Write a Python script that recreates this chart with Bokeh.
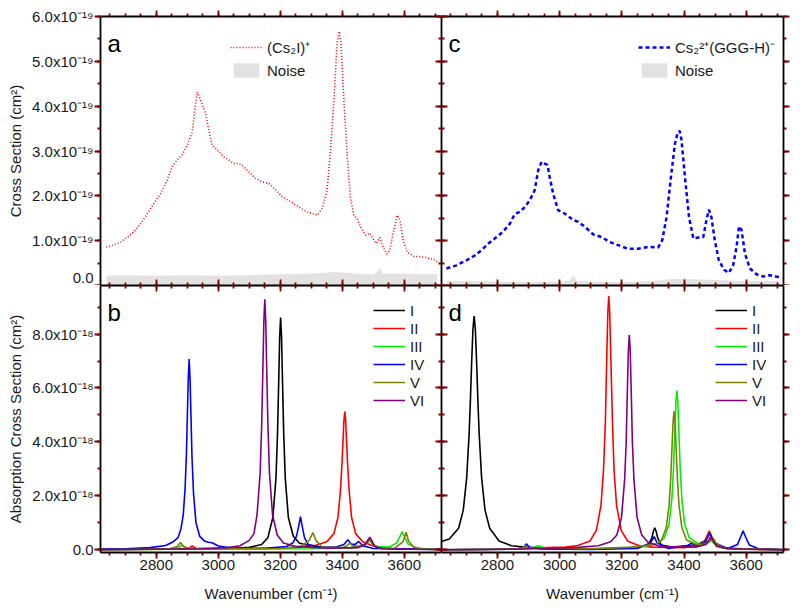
from bokeh.plotting import figure
from bokeh.layouts import gridplot
from bokeh.models import (LinearAxis, SingleIntervalTicker, CustomJSTickFormatter,
                          BasicTickFormatter, Range1d, Legend, LegendItem, Label,
                          CustomLabelingPolicy)
from bokeh.embed import file_html
from bokeh.resources import INLINE

# ---------------- data (units: top panels 1e-19 cm^2, bottom panels 1e-18 cm^2) ----------------
cs2i_x = [2639, 2663, 2685, 2706, 2728, 2749, 2771, 2792, 2814, 2835, 2851, 2867, 2883, 2900,
          2916, 2924, 2932, 2943, 2959, 2969, 2980, 2996, 3018, 3034, 3050, 3066, 3082, 3098,
          3120, 3141, 3163, 3185, 3206, 3233, 3260, 3287, 3319, 3335, 3351, 3362, 3373, 3383,
          3390, 3396, 3405, 3416, 3426, 3437, 3448, 3459, 3475, 3489, 3502, 3510, 3521, 3532,
          3543, 3553, 3564, 3577, 3586, 3596, 3609, 3631, 3652, 3674, 3695, 3706]
cs2i_y = [0.86, 0.90, 0.97, 1.07, 1.20, 1.38, 1.60, 1.83, 2.05, 2.35, 2.65, 2.80, 2.91, 3.13,
          3.43, 3.91, 4.32, 4.14, 3.84, 3.47, 3.13, 3.02, 2.87, 2.80, 2.72, 2.72, 2.65, 2.54,
          2.39, 2.31, 2.28, 2.13, 1.98, 1.87, 1.75, 1.64, 1.57, 1.72, 2.13, 3.02, 4.14, 5.40,
          5.67, 5.40, 4.14, 2.87, 1.98, 1.57, 1.49, 1.31, 1.12, 1.17, 1.01, 0.94, 1.07, 0.86,
          0.70, 0.79, 1.16, 1.57, 1.46, 1.01, 0.75, 0.65, 0.64, 0.62, 0.58, 0.53]
noise_a_x = [2639, 2700, 2800, 2900, 3000, 3100, 3200, 3300, 3380, 3450, 3500, 3512, 3521, 3530, 3600, 3706]
noise_a_y = [0.22, 0.23, 0.22, 0.23, 0.22, 0.23, 0.25, 0.27, 0.30, 0.26, 0.25, 0.30, 0.40, 0.27, 0.26, 0.25]

ggg_x = [2636, 2668, 2700, 2727, 2749, 2770, 2797, 2818, 2840, 2856, 2872, 2888, 2904, 2920,
         2931, 2942, 2952, 2961, 2968, 2979, 2995, 3017, 3044, 3060, 3081, 3108, 3135, 3161,
         3188, 3220, 3253, 3285, 3317, 3330, 3344, 3358, 3371, 3379, 3386, 3392, 3403, 3416,
         3430, 3446, 3462, 3472, 3480, 3488, 3499, 3512, 3529, 3544, 3558, 3569, 3577, 3585,
         3596, 3612, 3633, 3655, 3676, 3692, 3708]
ggg_y = [0.38, 0.45, 0.56, 0.67, 0.79, 0.93, 1.08, 1.20, 1.38, 1.60, 1.64, 1.75, 1.90, 2.13,
         2.57, 2.76, 2.72, 2.69, 2.42, 2.05, 1.68, 1.60, 1.46, 1.42, 1.31, 1.14, 1.08, 0.97,
         0.90, 0.82, 0.82, 0.86, 0.85, 1.01, 1.53, 2.42, 3.17, 3.39, 3.45, 3.24, 2.42, 1.53,
         1.05, 1.07, 1.08, 1.46, 1.69, 1.53, 1.01, 0.56, 0.35, 0.28, 0.45, 0.86, 1.32, 1.24,
         0.71, 0.38, 0.25, 0.20, 0.23, 0.20, 0.19]
noise_c_x = [2636, 2700, 2800, 2900, 3000, 3030, 3044, 3055, 3150, 3250, 3300, 3350, 3400, 3500, 3600, 3708]
noise_c_y = [0.10, 0.10, 0.09, 0.08, 0.09, 0.10, 0.23, 0.10, 0.08, 0.09, 0.10, 0.14, 0.15, 0.12, 0.10, 0.10]

conformers = ["I", "II", "III", "IV", "V", "VI"]

# panel b (calculated spectra for (Cs2I)+ conformers)
b_I_x = [2620, 2800, 2950, 3050, 3100, 3140, 3160, 3176, 3186, 3191, 3195, 3198, 3201, 3204, 3207,
         3211, 3216, 3226, 3242, 3261, 3300, 3360, 3430, 3465, 3478, 3486, 3494, 3510, 3560, 3720]
b_I_y = [0.02, 0.03, 0.04, 0.06, 0.09, 0.2, 0.45, 1.2, 2.65, 4.3, 6.3, 7.9, 8.61, 7.9, 6.3,
         4.3, 2.65, 1.2, 0.5, 0.25, 0.12, 0.07, 0.08, 0.14, 0.28, 0.41, 0.28, 0.1, 0.04, 0.02]
b_II_x = [2620, 2850, 2905, 2916, 2927, 3000, 3150, 3250, 3310, 3350, 3373, 3386, 3394, 3399, 3403,
          3405, 3408, 3411, 3413, 3417, 3422, 3430, 3443, 3466, 3500, 3560, 3720]
b_II_y = [0.01, 0.02, 0.06, 0.14, 0.06, 0.04, 0.05, 0.08, 0.15, 0.3, 0.6, 1.2, 2.2, 3.2, 4.2,
          4.75, 5.13, 4.75, 4.2, 3.2, 2.2, 1.2, 0.6, 0.3, 0.14, 0.05, 0.02]
b_III_x = [2620, 2850, 2873, 2883, 2893, 2920, 2960, 3100, 3300, 3440, 3470, 3480, 3486, 3492, 3505,
           3550, 3575, 3586, 3593, 3600, 3612, 3640, 3720]
b_III_y = [0.0, 0.02, 0.08, 0.18, 0.08, 0.04, 0.05, 0.03, 0.04, 0.08, 0.18, 0.28, 0.37, 0.28, 0.12,
           0.1, 0.25, 0.5, 0.68, 0.5, 0.22, 0.06, 0.01]
b_IV_x = [2620, 2700, 2780, 2830, 2855, 2870, 2880, 2887, 2893, 2897, 2900, 2903, 2906, 2909, 2912,
          2915, 2920, 2928, 2940, 2955, 2968, 2980, 3000, 3050, 3150, 3220, 3240, 3252, 3259, 3265,
          3271, 3278, 3290, 3330, 3380, 3405, 3418, 3430, 3442, 3453, 3466, 3500, 3720]
b_IV_y = [0.02, 0.04, 0.08, 0.16, 0.3, 0.45, 0.8, 1.3, 2.3, 3.5, 4.9, 6.3, 7.07, 6.3, 4.9,
          3.5, 2.1, 1.0, 0.5, 0.33, 0.28, 0.26, 0.14, 0.06, 0.06, 0.12, 0.25, 0.5, 0.85, 1.23,
          0.85, 0.45, 0.2, 0.1, 0.1, 0.2, 0.37, 0.2, 0.2, 0.31, 0.15, 0.05, 0.01]
b_V_x = [2620, 2840, 2868, 2878, 2888, 2910, 2950, 3000, 3200, 3270, 3293, 3305, 3315, 3335, 3400,
         3416, 3424, 3432, 3460, 3480, 3489, 3497, 3520, 3570, 3596, 3606, 3614, 3630, 3660, 3720]
b_V_y = [0.0, 0.03, 0.12, 0.27, 0.12, 0.04, 0.05, 0.03, 0.05, 0.15, 0.35, 0.64, 0.35, 0.1, 0.08,
         0.16, 0.25, 0.16, 0.12, 0.25, 0.37, 0.22, 0.06, 0.06, 0.3, 0.65, 0.32, 0.1, 0.03, 0.01]
b_VI_x = [2620, 2800, 2950, 3030, 3070, 3100, 3115, 3125, 3135, 3140, 3144, 3147, 3150, 3153, 3156,
          3160, 3165, 3175, 3190, 3210, 3250, 3350, 3450, 3475, 3483, 3489, 3495, 3505, 3530, 3720]
b_VI_y = [0.0, 0.02, 0.04, 0.08, 0.15, 0.35, 0.6, 1.3, 2.85, 4.65, 6.8, 8.5, 9.29, 8.5, 6.8,
          4.65, 2.85, 1.3, 0.55, 0.25, 0.12, 0.06, 0.08, 0.2, 0.35, 0.47, 0.35, 0.12, 0.04, 0.0]

# panel d (calculated spectra for Cs2(2+)(GGG-H)- conformers)
d_I_x = [2620, 2645, 2675, 2690, 2701, 2709, 2713, 2717, 2721, 2725, 2729, 2733, 2737, 2741, 2749,
         2760, 2775, 2805, 2845, 2925, 3000, 3100, 3250, 3285, 3296, 3302, 3306, 3310, 3316, 3327,
         3360, 3440, 3462, 3475, 3486, 3496, 3520, 3600, 3720]
d_I_y = [0.31, 0.4, 0.8, 1.47, 2.67, 4.33, 5.55, 6.94, 8.15, 8.67, 8.15, 6.94, 5.55, 4.33, 2.67,
         1.47, 0.8, 0.33, 0.15, 0.06, 0.04, 0.03, 0.08, 0.2, 0.42, 0.7, 0.82, 0.7, 0.42, 0.18,
         0.1, 0.18, 0.3, 0.3, 0.42, 0.25, 0.08, 0.02, 0.01]
d_II_x = [2620, 2800, 2900, 2960, 3020, 3058, 3098, 3118, 3133, 3141, 3147, 3152, 3155, 3158, 3161,
          3164, 3170, 3175, 3183, 3198, 3218, 3258, 3300, 3400, 3455, 3470, 3477, 3481, 3485, 3492,
          3505, 3550, 3720]
d_II_y = [0.0, 0.02, 0.05, 0.08, 0.1, 0.16, 0.33, 0.72, 1.65, 2.95, 4.7, 7.4, 8.8, 9.41, 8.8,
          7.4, 4.7, 2.95, 1.65, 0.72, 0.33, 0.14, 0.1, 0.08, 0.2, 0.4, 0.6, 0.7, 0.6, 0.35,
          0.12, 0.03, 0.0]
d_III_x = [2620, 2850, 2905, 2931, 2957, 3050, 3200, 3280, 3317, 3337, 3352, 3361, 3366, 3371, 3374,
           3377, 3380, 3383, 3388, 3393, 3402, 3417, 3435, 3450, 3470, 3486, 3500, 3530, 3720]
d_III_y = [0.0, 0.02, 0.05, 0.15, 0.05, 0.03, 0.06, 0.14, 0.25, 0.45, 0.96, 1.9, 2.95, 4.55, 5.5,
           5.9, 5.5, 4.55, 2.95, 1.9, 0.96, 0.45, 0.3, 0.22, 0.25, 0.38, 0.2, 0.05, 0.0]
d_IV_x = [2620, 2860, 2885, 2893, 2902, 2940, 3100, 3250, 3292, 3304, 3314, 3350, 3410, 3424, 3440,
          3465, 3476, 3483, 3490, 3500, 3540, 3572, 3583, 3590, 3597, 3610, 3640, 3720]
d_IV_y = [0.0, 0.02, 0.1, 0.22, 0.1, 0.03, 0.01, 0.05, 0.25, 0.49, 0.25, 0.05, 0.15, 0.25, 0.15,
          0.25, 0.45, 0.62, 0.45, 0.25, 0.05, 0.2, 0.5, 0.7, 0.5, 0.18, 0.04, 0.0]
d_V_x = [2620, 2850, 2878, 2888, 2898, 2950, 3100, 3230, 3308, 3328, 3343, 3352, 3357, 3362, 3365,
         3368, 3371, 3374, 3379, 3384, 3393, 3408, 3440, 3470, 3485, 3494, 3503, 3530, 3720]
d_V_y = [0.0, 0.02, 0.06, 0.12, 0.06, 0.06, 0.04, 0.1, 0.2, 0.36, 0.83, 1.65, 2.57, 3.95, 4.78,
         5.13, 4.78, 3.95, 2.57, 1.65, 0.83, 0.36, 0.2, 0.2, 0.32, 0.43, 0.25, 0.06, 0.0]
d_VI_x = [2620, 2850, 2950, 3050, 3124, 3164, 3184, 3199, 3209, 3214, 3218, 3221, 3224, 3227, 3230,
          3234, 3239, 3249, 3264, 3284, 3324, 3440, 3470, 3480, 3486, 3493, 3505, 3540, 3720]
d_VI_y = [0.0, 0.02, 0.05, 0.08, 0.15, 0.3, 0.55, 1.2, 2.6, 3.98, 6.0, 7.4, 7.96, 7.4, 6.0,
          3.98, 2.6, 1.2, 0.55, 0.28, 0.12, 0.1, 0.2, 0.35, 0.49, 0.35, 0.15, 0.04, 0.0]

# ---------------- styling ----------------
FONT = "Liberation Sans"
AX = "#1a1a1a"
AXIS_LINE = "#000000"
TICK_COL = "#800000"
conf_colors = ["#000000", "#ff0000", "#00ee00", "#0000ff", "#808000", "#800080"]


def sci_formatter(sup):
    return CustomJSTickFormatter(args=dict(sup=sup), code="""
        if (Math.abs(tick) < 1e-9) { return "0.0"; }
        return tick.toFixed(1) + "x10" + sup;
    """)


def add_axis(p, side, ticker, formatter=None, labels=False, outward=True, axis_label=None,
             label_standoff=1, axis_standoff=5):
    ax = LinearAxis(ticker=ticker)
    if formatter is not None:
        ax.formatter = formatter
    ax.axis_line_color = AXIS_LINE
    ax.axis_line_width = 1.8
    if outward:
        ax.major_tick_out = 6
        ax.major_tick_in = 0
        ax.minor_tick_out = 3
        ax.minor_tick_in = 0
    else:
        ax.major_tick_out = 0
        ax.major_tick_in = 6
        ax.minor_tick_out = 0
        ax.minor_tick_in = 3
    ax.major_tick_line_color = TICK_COL
    ax.minor_tick_line_color = TICK_COL
    ax.major_tick_line_width = 1.8
    ax.minor_tick_line_width = 1.8
    if labels:
        ax.major_label_text_font = FONT
        ax.major_label_text_font_size = "15px"
        ax.major_label_text_color = AX
        ax.major_label_standoff = label_standoff
    else:
        ax.major_label_text_font_size = "0px"
        ax.major_label_standoff = 0
        ax.major_label_policy = CustomLabelingPolicy(code="return []")
    if axis_label:
        ax.axis_label = axis_label
        ax.axis_label_text_font = FONT
        ax.axis_label_text_font_size = "15px"
        ax.axis_label_text_font_style = "normal"
        ax.axis_label_text_color = AX
        ax.axis_label_standoff = axis_standoff
    p.add_layout(ax, side)
    return ax


def make_fig(fw, fh, yr, bl, br, bt, bb):
    p = figure(frame_width=fw, frame_height=fh,
               x_range=Range1d(2620, 3720), y_range=Range1d(*yr),
               x_axis_location=None, y_axis_location=None,
               output_backend="svg", toolbar_location=None,
               min_border_left=bl, min_border_right=br,
               min_border_top=bt, min_border_bottom=bb)
    p.grid.visible = False
    p.outline_line_color = None
    p.background_fill_color = "white"
    return p


def xt():
    return SingleIntervalTicker(interval=200, num_minor_ticks=4)


def yt_top():
    return SingleIntervalTicker(interval=1, num_minor_ticks=2)


def yt_bot():
    return SingleIntervalTicker(interval=2, num_minor_ticks=2)


def panel_letter(p, letter, fh):
    p.add_layout(Label(x=7, y=fh - 27, x_units="screen", y_units="screen", text=letter,
                       text_font=FONT, text_font_size="24px", text_color="#000000",
                       text_baseline="alphabetic", text_align="left"))


TOP_H, BOT_H = 269, 267
LEFT_W, RIGHT_W = 341, 342

# ---- panel a ----
a = make_fig(LEFT_W, TOP_H, (0, 6.0), 100, 0, 16, 0)
add_axis(a, "left", yt_top(), sci_formatter("⁻¹⁹"), labels=True, outward=True,
         axis_label="Cross Section (cm²)")
add_axis(a, "above", xt(), outward=True)
add_axis(a, "right", yt_top(), outward=False)
add_axis(a, "below", xt(), outward=False)
ra_n = a.varea(x=noise_a_x, y1=0, y2=noise_a_y, fill_color="#e2e2e2")
ra_c = a.line(cs2i_x, cs2i_y, line_color="#ff0000", line_width=1.6, line_dash="1 2")
leg_a = Legend(items=[LegendItem(label="(Cs₂I)⁺", renderers=[ra_c]),
                      LegendItem(label="Noise", renderers=[ra_n])],
               location=(130, 206))
panel_letter(a, "a", TOP_H)

# ---- panel c ----
c = make_fig(RIGHT_W, TOP_H, (0, 6.0), 0, 10, 16, 0)
add_axis(c, "left", yt_top(), outward=False)
add_axis(c, "above", xt(), outward=True)
add_axis(c, "right", yt_top(), outward=True)
add_axis(c, "below", xt(), outward=False)
rc_n = c.varea(x=noise_c_x, y1=0, y2=noise_c_y, fill_color="#e2e2e2")
rc_c = c.line(ggg_x, ggg_y, line_color="#0000ff", line_width=2.5, line_dash="4 3")
leg_c = Legend(items=[LegendItem(label="Cs₂²⁺(GGG-H)⁻", renderers=[rc_c]),
                      LegendItem(label="Noise", renderers=[rc_n])],
               location=(197, 206))
panel_letter(c, "c", TOP_H)

# ---- panel b ----
b = make_fig(LEFT_W, BOT_H, (-0.1, 9.8), 100, 0, 0, 56)
add_axis(b, "left", yt_bot(), sci_formatter("⁻¹⁸"), labels=True, outward=True,
         axis_label="Absorption Cross Section (cm²)")
add_axis(b, "below", xt(), BasicTickFormatter(), labels=True, outward=True,
         axis_label="Wavenumber (cm⁻¹)", axis_standoff=12)
add_axis(b, "above", xt(), outward=False)
add_axis(b, "right", yt_bot(), outward=False)
b_series = [(b_I_x, b_I_y), (b_II_x, b_II_y), (b_III_x, b_III_y),
            (b_IV_x, b_IV_y), (b_V_x, b_V_y), (b_VI_x, b_VI_y)]
b_items = []
for name, col, (xs, ys) in zip(conformers, conf_colors, b_series):
    r = b.line(xs, ys, line_color=col, line_width=1.6)
    b_items.append(LegendItem(label=name, renderers=[r]))
leg_b = Legend(items=b_items, location=(273, 143))
panel_letter(b, "b", BOT_H)

# ---- panel d ----
d = make_fig(RIGHT_W, BOT_H, (-0.1, 9.8), 0, 10, 0, 56)
add_axis(d, "left", yt_bot(), outward=False)
add_axis(d, "below", xt(), BasicTickFormatter(), labels=True, outward=True,
         axis_label="Wavenumber (cm⁻¹)", axis_standoff=12)
add_axis(d, "above", xt(), outward=False)
add_axis(d, "right", yt_bot(), outward=True)
d_series = [(d_I_x, d_I_y), (d_II_x, d_II_y), (d_III_x, d_III_y),
            (d_IV_x, d_IV_y), (d_V_x, d_V_y), (d_VI_x, d_VI_y)]
d_items = []
for name, col, (xs, ys) in zip(conformers, conf_colors, d_series):
    r = d.line(xs, ys, line_color=col, line_width=1.6)
    d_items.append(LegendItem(label=name, renderers=[r]))
leg_d = Legend(items=d_items, location=(274, 143))
panel_letter(d, "d", BOT_H)

for leg, gh, sp in [(leg_a, 18, 4), (leg_c, 18, 4), (leg_b, 18, 0), (leg_d, 18, 0)]:
    leg.border_line_color = None
    leg.background_fill_alpha = 0
    leg.padding = 0
    leg.margin = 0
    leg.spacing = sp
    leg.glyph_width = 32
    leg.glyph_height = gh
    leg.label_height = gh
    leg.label_standoff = 5
    leg.label_text_font = FONT
    leg.label_text_font_size = "15px"
    leg.label_text_color = AX
    leg.label_text_baseline = "middle"

a.add_layout(leg_a)
c.add_layout(leg_c)
b.add_layout(leg_b)
d.add_layout(leg_d)

grid = gridplot([[a, c], [b, d]], toolbar_location=None)
open("out.html", "w").write(file_html(grid, INLINE))
